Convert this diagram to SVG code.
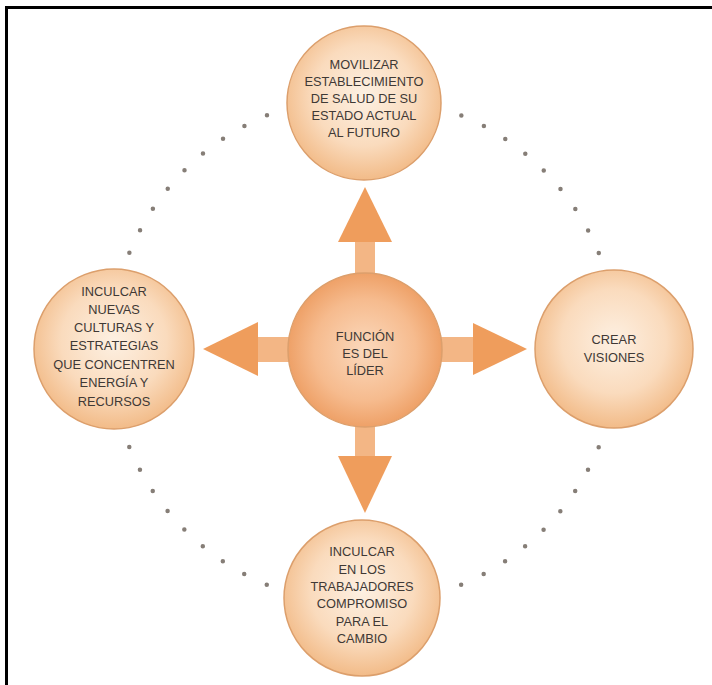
<svg xmlns="http://www.w3.org/2000/svg" width="712" height="685" viewBox="0 0 712 685">
<defs>
<radialGradient id="gOuter" cx="50%" cy="45%" r="55%">
<stop offset="0" stop-color="#fdf0e2"/>
<stop offset="0.6" stop-color="#fadbbd"/>
<stop offset="1" stop-color="#f2bb88"/>
</radialGradient>
<radialGradient id="gCenter" cx="50%" cy="50%" r="55%">
<stop offset="0" stop-color="#fbd9bd"/>
<stop offset="0.6" stop-color="#f6bb8e"/>
<stop offset="1" stop-color="#ec995c"/>
</radialGradient>
<style>
.node{stroke:#dc9f6c;stroke-width:1.5}
.outer{fill:url(#gOuter)}
.center{fill:url(#gCenter)}
.lbl{font-family:"Liberation Sans","DejaVu Sans",sans-serif;font-size:12.8px;fill:#3f3935;text-anchor:middle}
.ring{fill:none;stroke:#867e77;stroke-width:4.5;stroke-linecap:round;stroke-dasharray:0 24.93}
.shaft{fill:#f3b685}
.head{fill:#ef9d5c}
</style>
</defs>
<rect x="0" y="0" width="712" height="685" fill="#ffffff"/>
<path d="M6.5,685 V7.5 H712" fill="none" stroke="#000" stroke-width="3"/>
<g id="connectors">
<circle class="ring" cx="364" cy="350" r="254"/>
<rect class="shaft" x="355" y="240" width="20" height="36"/>
<polygon class="head" points="365,187 392,242 338,242"/>
<rect class="shaft" x="355" y="424" width="20" height="34"/>
<polygon class="head" points="365,513 392,456 338,456"/>
<rect class="shaft" x="438" y="337" width="37" height="25"/>
<polygon class="head" points="527,349 473,323 473,375"/>
<rect class="shaft" x="256" y="337" width="36" height="25"/>
<polygon class="head" points="203,349 258,322 258,376"/>
</g>
<g id="n-top">
<circle class="node outer" cx="364" cy="103" r="77"/>
<text class="lbl" x="364" y="69">MOVILIZAR</text>
<text class="lbl" x="364" y="86">ESTABLECIMIENTO</text>
<text class="lbl" x="364" y="103">DE SALUD DE SU</text>
<text class="lbl" x="364" y="120">ESTADO ACTUAL</text>
<text class="lbl" x="364" y="137">AL FUTURO</text>
</g>
<g id="n-center">
<circle class="node center" cx="365" cy="350" r="77"/>
<text class="lbl" x="365" y="341">FUNCIÓN</text>
<text class="lbl" x="365" y="358">ES DEL</text>
<text class="lbl" x="365" y="375">LÍDER</text>
</g>
<g id="n-right">
<circle class="node outer" cx="614" cy="349" r="79"/>
<text class="lbl" x="614" y="344">CREAR</text>
<text class="lbl" x="614" y="362">VISIONES</text>
</g>
<g id="n-left">
<circle class="node outer" cx="114" cy="349" r="80"/>
<text class="lbl" x="114" y="296">INCULCAR</text>
<text class="lbl" x="114" y="314">NUEVAS</text>
<text class="lbl" x="114" y="332">CULTURAS Y</text>
<text class="lbl" x="114" y="350">ESTRATEGIAS</text>
<text class="lbl" x="114" y="369">QUE CONCENTREN</text>
<text class="lbl" x="114" y="387">ENERGÍA Y</text>
<text class="lbl" x="114" y="406">RECURSOS</text>
</g>
<g id="n-bottom">
<circle class="node outer" cx="362" cy="598" r="78"/>
<text class="lbl" x="362" y="556">INCULCAR</text>
<text class="lbl" x="362" y="574">EN LOS</text>
<text class="lbl" x="362" y="591">TRABAJADORES</text>
<text class="lbl" x="362" y="608">COMPROMISO</text>
<text class="lbl" x="362" y="626">PARA EL</text>
<text class="lbl" x="362" y="643">CAMBIO</text>
</g>
</svg>
